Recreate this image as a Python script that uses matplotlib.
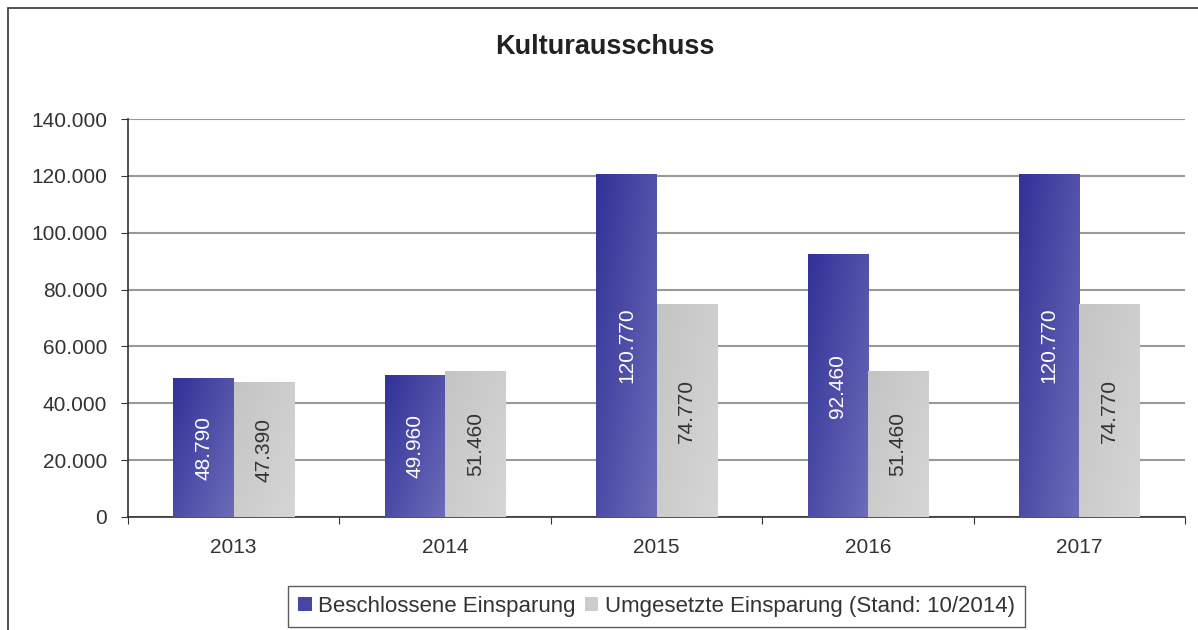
import numpy as np
import matplotlib.pyplot as plt
from matplotlib.patches import Rectangle, Patch
from matplotlib.colors import LinearSegmentedColormap

plt.rcParams['font.family'] = ['Liberation Sans', 'DejaVu Sans']

# data
years = ['2013', '2014', '2015', '2016', '2017']
beschlossen = [48790, 49960, 120770, 92460, 120770]
umgesetzt = [47390, 51460, 74770, 51460, 74770]
series_names = ['Beschlossene Einsparung', 'Umgesetzte Einsparung (Stand: 10/2014)']
title = 'Kulturausschuss'

blue_cmap = LinearSegmentedColormap.from_list('b', ['#323298', '#6c6cb9'])
gray_cmap = LinearSegmentedColormap.from_list('g', ['#c4c4c4', '#d6d6d6'])

fig = plt.figure(figsize=(11.98, 6.3), dpi=100)
fig.patches.append(Rectangle((8 / 1198, -0.1), 1.2, 1 - 8 / 630 + 0.1, transform=fig.transFigure,
                             fill=False, edgecolor='#333333', lw=1.2))

ax = fig.add_axes([128 / 1198, 1 - 517 / 630, (1185 - 128) / 1198, (517 - 119) / 630])

x = np.arange(len(years))
w = 0.285

# diagonal gradient image
gx, gy = np.meshgrid(np.linspace(0, 1, 50), np.linspace(0, 1, 200))
grad = 0.55 * gx + 0.45 * gy


def grad_bars(xs, vals, cmap):
    bars = ax.bar(xs, vals, w, align='edge', facecolor='none', edgecolor='none', zorder=3)
    for b in bars:
        x0, y0 = b.get_x(), b.get_y()
        im = ax.imshow(grad, cmap=cmap, aspect='auto', origin='upper',
                       extent=(x0, x0 + b.get_width(), y0, y0 + b.get_height()), zorder=3)
        im.set_clip_path(b)
    return bars


grad_bars(x - w, beschlossen, blue_cmap)
grad_bars(x, umgesetzt, gray_cmap)

for xi, v in zip(x, beschlossen):
    ax.text(xi - w / 2, v / 2, f'{v:,}'.replace(',', '.'), rotation=90, ha='center', va='center',
            color='white', fontsize=15, zorder=4)
for xi, v in zip(x, umgesetzt):
    ax.text(xi + w / 2, v / 2, f'{v:,}'.replace(',', '.'), rotation=90, ha='center', va='center',
            color='#333333', fontsize=15, zorder=4)

ax.set_xlim(-0.5, len(years) - 0.5)
ax.set_ylim(0, 140000)
ax.set_yticks(np.arange(0, 140001, 20000))
ax.set_yticklabels(['0'] + [f'{t:,}'.replace(',', '.') for t in range(20000, 140001, 20000)])
ax.set_xticks(np.arange(-0.5, len(years)), labels=[''] * (len(years) + 1))
ax.set_xticks(x, labels=years, minor=True)
ax.tick_params(axis='x', which='minor', length=0, pad=15, labelsize=15, labelcolor='#333333')
ax.tick_params(axis='x', which='major', length=5, color='#333333')
ax.tick_params(axis='y', length=5, color='#333333', labelsize=15, labelcolor='#333333', pad=10)
ax.yaxis.grid(True, color='#999999', lw=1.5)
ax.set_axisbelow(True)
for s in ['top', 'right']:
    ax.spines[s].set_visible(False)
for s in ['left', 'bottom']:
    ax.spines[s].set_color('#333333')
    ax.spines[s].set_linewidth(1.2)

fig.text(605 / 1198, 1 - 47 / 630, title, ha='center', va='center', fontsize=19.5,
         fontweight='bold', color='#222222')

handles = [Patch(facecolor='#4646a6'), Patch(facecolor='#cccccc')]
leg = fig.legend(handles, series_names, loc='lower center', bbox_to_anchor=(656.5 / 1198, 3 / 630),
                 ncol=2, fontsize=16, frameon=True, fancybox=False, edgecolor='#333333',
                 handlelength=0.6, handleheight=0.6, handletextpad=0.3, columnspacing=0.4,
                 borderpad=0.45, borderaxespad=0, labelcolor='#333333')
leg.get_frame().set_linewidth(1.0)

fig.savefig('out.png', dpi=100)
